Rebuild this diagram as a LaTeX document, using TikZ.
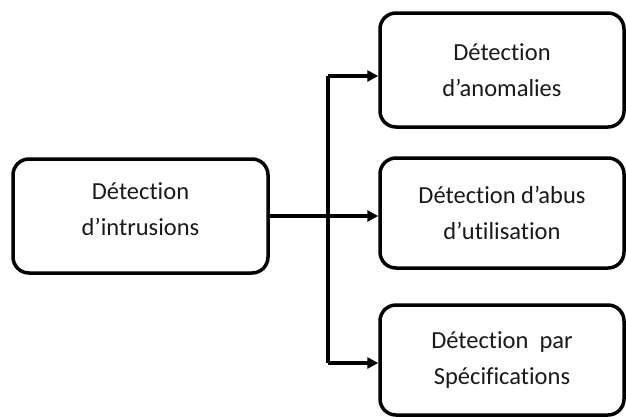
\documentclass[tikz,border=0pt]{standalone}
\usepackage{fontspec}
\setmainfont{Carlito}[Ligatures=NoCommon]
\usetikzlibrary{arrows.meta}
\begin{document}
\begin{tikzpicture}[x=1pt,y=-1pt,
  box/.style={draw=black, line width=3.5pt, rounded corners=16pt, align=center,
    inner sep=0pt},
  txt/.style={align=center, inner sep=0pt, font=\fontsize{24.5}{36}\selectfont, text=black!90},
  conn/.style={line width=3.5pt, -{Triangle[length=11pt,width=11pt]}}]
\useasboundingbox (0,0) rectangle (626,416);
\node[box, minimum width=255pt, minimum height=114pt] (L) at (140.5,216) {};
\node[txt] (Lt) at (140.5,209) {Détection\\d’intrusions};
\node[box, txt, minimum width=244pt, minimum height=114pt] (A) at (502,70) {Détection\\d’anomalies};
\node[box, txt, minimum width=244pt, minimum height=110pt] (B) at (502,213) {Détection d’abus\\d’utilisation};
\node[box, txt, minimum width=244pt, minimum height=110pt] (C) at (502,360) {Détection\ \ par\\Spécifications};
\coordinate (j) at (328,216);
\coordinate (jt) at (328,76);
\coordinate (jb) at (328,363);
\draw[line width=3.5pt] (L.east) -- (j);
\draw[line width=3.5pt] (jt) -- (jb);
\draw[conn] (jt) -- (jt -| A.west);
\draw[conn] (j) -- (j -| B.west);
\draw[conn] (jb) -- (jb -| C.west);
\end{tikzpicture}
\end{document}
